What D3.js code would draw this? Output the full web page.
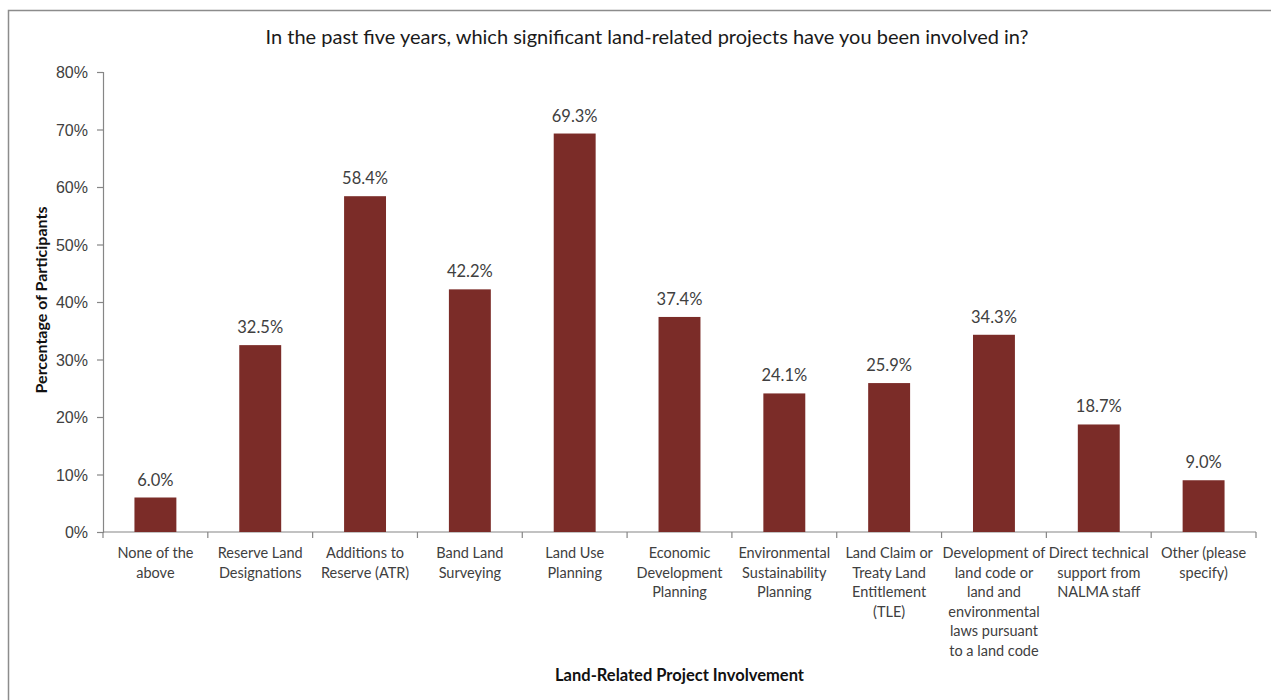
<!DOCTYPE html>
<html>
<head>
<meta charset="utf-8">
<script src="https://cdn.jsdelivr.net/npm/d3@7/dist/d3.min.js"></script>
<style>
  html, body { margin: 0; padding: 0; background: #fff; }
  svg { display: block; font-family: Lato, "Open Sans", sans-serif; }
</style>
</head>
<body>
<svg id="chart" width="1271" height="700"></svg>
<script>
// Survey categories (each label split into its wrapped lines)
const categories = [
  ["None of the", "above"],
  ["Reserve Land", "Designations"],
  ["Additions to", "Reserve (ATR)"],
  ["Band Land", "Surveying"],
  ["Land Use", "Planning"],
  ["Economic", "Development", "Planning"],
  ["Environmental", "Sustainability", "Planning"],
  ["Land Claim or", "Treaty Land", "Entitlement", "(TLE)"],
  ["Development of", "land code or", "land and", "environmental", "laws pursuant", "to a land code"],
  ["Direct technical", "support from", "NALMA staff"],
  ["Other (please", "specify)"]
];
// Percentage of participants per category
const values = [6.0, 32.5, 58.4, 42.2, 69.3, 37.4, 24.1, 25.9, 34.3, 18.7, 9.0];
const yTicks = [0, 10, 20, 30, 40, 50, 60, 70, 80];

const title = "In the past five years, which significant land-related projects have you been involved in?";
const xTitle = "Land-Related Project Involvement";
const yTitle = "Percentage of Participants";

const svg = d3.select("#chart");
const margin = { left: 103, right: 1256, top: 72, bottom: 532 };

// Outer frame of the chart area
svg.append("rect")
  .attr("x", 8.5).attr("y", 10.5)
  .attr("width", 1300).attr("height", 800)
  .attr("fill", "none").attr("stroke", "#8c8c8c").attr("stroke-width", 1.5);

const x = d3.scaleBand()
  .domain(d3.range(categories.length))
  .range([margin.left, margin.right])
  .paddingInner(0.6).paddingOuter(0.3);

const y = d3.scaleLinear().domain([0, 80]).range([margin.bottom, margin.top]);

// Y axis
const yAxis = svg.append("g")
  .attr("transform", `translate(${margin.left},0)`)
  .call(d3.axisLeft(y).tickValues(yTicks).tickSize(6).tickPadding(9).tickFormat(d => d + "%"));
yAxis.select(".domain").attr("stroke", "#868686").attr("stroke-width", 1.2);
yAxis.selectAll(".tick line").attr("stroke", "#868686").attr("stroke-width", 1.2);
yAxis.selectAll(".tick text")
  .attr("fill", "#404040").attr("font-size", 16).attr("dy", "0.35em");

// X axis baseline with category boundary ticks
const boundaries = d3.range(categories.length + 1).map(i => margin.left + i * (margin.right - margin.left) / categories.length);
svg.append("line")
  .attr("x1", margin.left).attr("x2", margin.right)
  .attr("y1", margin.bottom).attr("y2", margin.bottom)
  .attr("stroke", "#868686").attr("stroke-width", 1.2);
svg.append("g").selectAll("line").data(boundaries).join("line")
  .attr("x1", d => d).attr("x2", d => d)
  .attr("y1", margin.bottom).attr("y2", margin.bottom + 6)
  .attr("stroke", "#868686").attr("stroke-width", 1.2);

// Bars
svg.append("g").selectAll("rect").data(values).join("rect")
  .attr("x", (d, i) => x(i))
  .attr("y", d => y(d))
  .attr("width", x.bandwidth())
  .attr("height", d => y(0) - y(d))
  .attr("fill", "#7b2c28");

// Value labels
svg.append("g").selectAll("text").data(values).join("text")
  .attr("x", (d, i) => x(i) + x.bandwidth() / 2)
  .attr("y", d => y(d) - 12)
  .attr("text-anchor", "middle")
  .attr("font-size", 16.5)
  .attr("fill", "#404040")
  .text(d => d.toFixed(1) + "%");

// Category labels
const catG = svg.append("g");
categories.forEach((lines, i) => {
  const t = catG.append("text")
    .attr("x", x(i) + x.bandwidth() / 2)
    .attr("y", 558)
    .attr("text-anchor", "middle")
    .attr("font-size", 14.5)
    .attr("fill", "#404040");
  lines.forEach((ln, j) => {
    t.append("tspan")
      .attr("x", x(i) + x.bandwidth() / 2)
      .attr("y", 558 + j * 19.6)
      .text(ln);
  });
});

// Titles
svg.append("text")
  .attr("x", 647).attr("y", 44)
  .attr("text-anchor", "middle")
  .attr("font-size", 20)
  .attr("fill", "#1a1a1a")
  .text(title);

svg.append("text")
  .attr("x", (margin.left + margin.right) / 2).attr("y", 681)
  .attr("text-anchor", "middle")
  .attr("font-size", 16.5)
  .attr("font-weight", "bold")
  .attr("fill", "#111")
  .text(xTitle);

svg.append("text")
  .attr("transform", `translate(47, ${(margin.top + margin.bottom) / 2 - 2}) rotate(-90)`)
  .attr("text-anchor", "middle")
  .attr("font-size", 16)
  .attr("font-weight", "bold")
  .attr("fill", "#111")
  .text(yTitle);
</script>
</body>
</html>
